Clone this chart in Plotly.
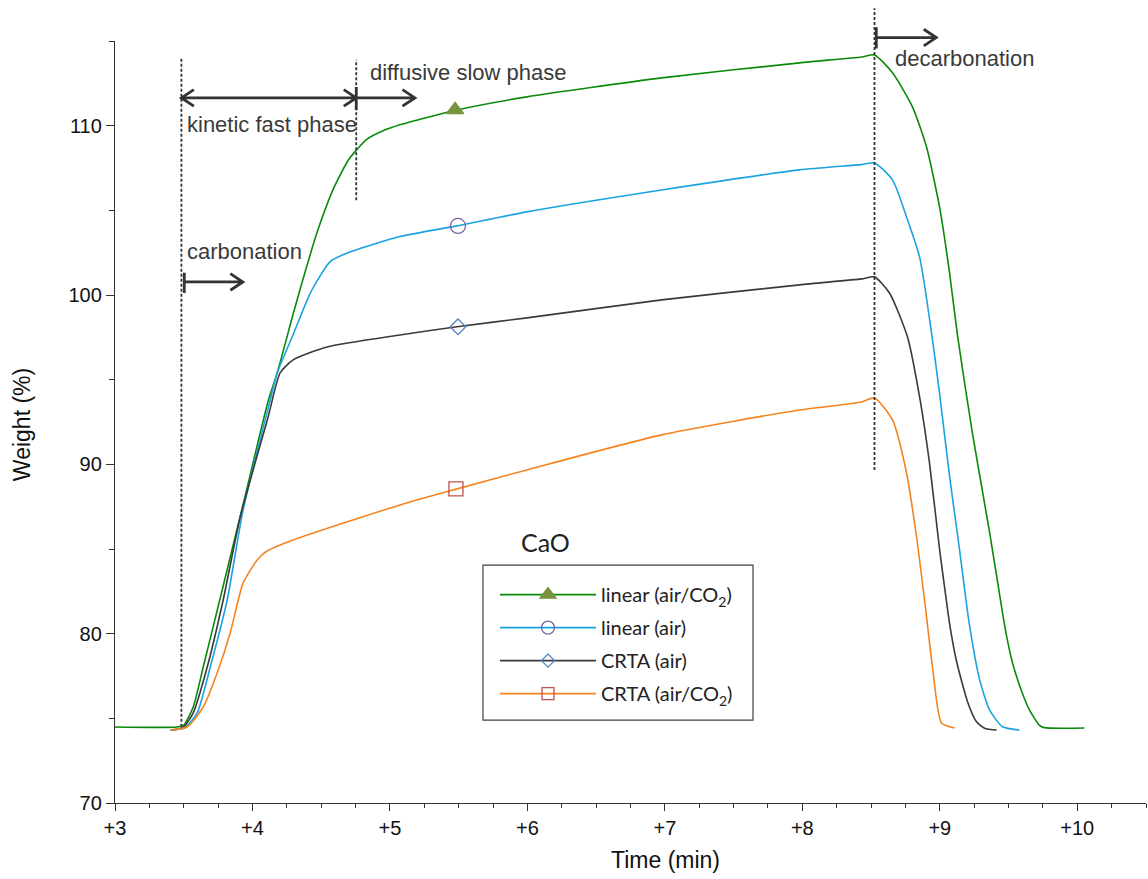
import plotly.graph_objects as go

# ---------------- data ----------------
green_x = [3.00, 3.45, 3.50, 3.569, 3.642, 3.762, 3.940, 4.116, 4.180, 4.300, 4.370, 4.470, 4.590,
           4.700, 4.761, 4.833, 4.950, 5.073, 5.488, 5.996, 6.977, 7.980, 8.431, 8.525, 8.656, 8.801,
           8.903, 8.998, 9.071, 9.129, 9.238, 9.362, 9.449, 9.485, 9.528, 9.600, 9.652, 9.724, 9.760, 10.052]
green_y = [74.49, 74.49, 74.60, 75.67, 78.03, 81.99, 87.90, 93.80, 95.40, 99.00, 101.00, 103.70, 106.30,
           108.00, 108.60, 109.20, 109.70, 110.05, 110.93, 111.70, 112.82, 113.71, 114.06, 114.18, 113.12, 111.11,
           108.75, 105.20, 101.31, 97.60, 91.80, 86.00, 81.60, 79.90, 78.30, 76.50, 75.50, 74.60, 74.45, 74.43]

blue_x = [3.40, 3.504, 3.598, 3.693, 3.816, 3.932, 4.129, 4.180, 4.300, 4.420, 4.565, 4.686, 5.073,
          5.488, 5.996, 6.977, 7.980, 8.431, 8.525, 8.656, 8.758, 8.853, 8.947, 8.998, 9.071, 9.143,
          9.187, 9.216, 9.289, 9.362, 9.456, 9.579]
blue_y = [74.31, 74.43, 75.32, 78.03, 81.99, 87.31, 93.80, 95.40, 97.74, 100.10, 101.97, 102.47, 103.45,
          104.08, 104.91, 106.20, 107.39, 107.70, 107.80, 106.80, 104.61, 102.25, 97.35, 94.20, 89.30, 85.00,
          82.20, 80.50, 77.30, 75.50, 74.50, 74.31]

black_x = [3.42, 3.50, 3.569, 3.671, 3.787, 3.911, 4.114, 4.201, 4.296, 4.543, 5.073, 5.488, 5.996,
           6.977, 7.980, 8.431, 8.525, 8.634, 8.765, 8.853, 8.925, 8.998, 9.042, 9.071, 9.121, 9.201,
           9.267, 9.330, 9.413]
black_y = [74.31, 74.50, 75.32, 78.03, 81.99, 86.89, 92.80, 95.40, 96.17, 96.93, 97.64, 98.12, 98.65,
           99.71, 100.60, 100.95, 101.07, 100.12, 97.52, 93.98, 90.08, 85.00, 82.30, 80.60, 78.40, 76.00,
           74.80, 74.40, 74.31]

orange_x = [3.40, 3.525, 3.642, 3.743, 3.838, 3.932, 4.034, 4.100, 4.296, 5.073, 5.488, 5.996, 6.977,
            7.980, 8.431, 8.525, 8.656, 8.758, 8.831, 8.889, 8.947, 9.012, 9.107]
orange_y = [74.31, 74.49, 75.67, 77.68, 80.04, 83.00, 84.35, 84.85, 85.53, 87.60, 88.55, 89.67, 91.74,
            93.21, 93.68, 93.92, 92.62, 89.49, 85.71, 81.99, 78.03, 74.73, 74.43]

# single marker on each curve
marker_x = [5.474, 5.495, 5.495, 5.480]
marker_y = [110.93, 104.08, 98.12, 88.55]

series_names = ["linear (air/CO<sub>2</sub>)", "linear (air)", "CRTA (air)", "CRTA (air/CO<sub>2</sub>)"]
x_ticks = [3, 4, 5, 6, 7, 8, 9, 10]
x_ticktext = ["+3", "+4", "+5", "+6", "+7", "+8", "+9", "+10"]
y_ticks = [70, 80, 90, 100, 110]

# ---------------- styles ----------------
line_colors = ["#0a8a0a", "#1aa3e0", "#3a3a3a", "#f5841f"]
marker_symbols = ["triangle-up", "circle-open", "diamond-open", "square-open"]
marker_colors = ["#77933c", "#7f63a8", "#4f81bd", "#c0504d"]
marker_sizes = [15, 15, 12, 14]
legend_marker_sizes = [14, 13, 10, 12]

curves = [(green_x, green_y), (blue_x, blue_y), (black_x, black_y), (orange_x, orange_y)]

fig = go.Figure()
for i, (cx, cy) in enumerate(curves):
    fig.add_trace(go.Scatter(x=cx, y=cy, mode="lines", showlegend=False,
                             line=dict(color=line_colors[i], width=1.6, shape="spline", smoothing=0.6),
                             hoverinfo="skip"))
for i in range(4):
    fig.add_trace(go.Scatter(x=[marker_x[i]], y=[marker_y[i]], mode="markers", showlegend=False,
                             marker=dict(symbol=marker_symbols[i], size=marker_sizes[i],
                                         color=marker_colors[i], line=dict(color=marker_colors[i], width=1.3))))
for i in range(4):
    fig.add_trace(go.Scatter(x=[None], y=[None], mode="lines+markers", name=series_names[i],
                             legendgroup=f"g{i}",
                             line=dict(color=line_colors[i], width=1.6),
                             marker=dict(symbol=marker_symbols[i], size=legend_marker_sizes[i],
                                         color=marker_colors[i], line=dict(color=marker_colors[i], width=1.3))))

# ---------------- annotation geometry ----------------
dark = "#333333"
dotted = dict(color=dark, width=1.8, dash="3px,2px")
shapes = []
shapes.append(dict(type="line", xref="x", yref="y", x0=3.483, x1=3.483, y0=74.5, y1=114.0, line=dotted))
shapes.append(dict(type="line", xref="x", yref="y", x0=4.755, x1=4.755, y0=105.6, y1=113.9, line=dotted))
shapes.append(dict(type="line", xref="x", yref="paper", x0=8.525, x1=8.525, y0=0.437, y1=1.043, line=dotted))

ax_px = 1 / 137.6      # x data units per pixel
ay_px = 1 / 16.93      # y data units per pixel
ap_px = 1 / 762.3      # paper units per pixel
head_len, head_half = 12.5, 8.3


def arrow(x0, x1, y, yref="y", left_head=False, bar=None):
    dy = head_half * (ay_px if yref == "y" else ap_px)
    dx = head_len * ax_px
    path = f"M{x0},{y} L{x1},{y} M{x1 - dx},{y + dy} L{x1},{y} L{x1 - dx},{y - dy}"
    if left_head:
        path += f" M{x0 + dx},{y + dy} L{x0},{y} L{x0 + dx},{y - dy}"
    if bar is not None:
        path += f" M{x0},{bar[0]} L{x0},{bar[1]}"
    return dict(type="path", xref="x", yref=yref, path=path,
                line=dict(color=dark, width=2.8))


shapes.append(arrow(3.483, 4.755, 111.64, left_head=True))
shapes.append(arrow(4.755, 5.182, 111.64, bar=(112.29, 110.93)))
shapes.append(arrow(3.504, 3.930, 100.77, bar=(101.31, 100.12)))
shapes.append(arrow(8.538, 8.974, 1.0045, yref="paper", bar=(1.018, 0.990)))

# legend box
shapes.append(dict(type="rect", xref="paper", yref="paper",
                   x0=(483 - 115) / 1031, x1=(753 - 115) / 1031,
                   y0=(803 - 720) / 762.3, y1=(803 - 565) / 762.3,
                   line=dict(color="#404040", width=1.2), fillcolor="rgba(0,0,0,0)"))

txt_font = dict(family="Liberation Sans, Arial, sans-serif", size=22, color="#3a3a3a")
annotations = [
    dict(x=3.512, y=110.05, text="kinetic fast phase", xanchor="left", yanchor="middle", showarrow=False, font=txt_font),
    dict(x=4.841, y=113.12, text="diffusive slow phase", xanchor="left", yanchor="middle", showarrow=False, font=txt_font),
    dict(x=3.512, y=102.55, text="carbonation", xanchor="left", yanchor="middle", showarrow=False, font=txt_font),
    dict(x=8.663, y=113.95, text="decarbonation", xanchor="left", yanchor="middle", showarrow=False, font=txt_font),
    dict(x=6.13, y=85.42, text="CaO", xanchor="center", yanchor="middle", showarrow=False,
         font=dict(family="Lato, Carlito, sans-serif", size=25, color="#222222")),
    dict(xref="paper", yref="paper", x=(665 - 115) / 1031, y=(803 - 860) / 762.3, text="Time (min)",
         showarrow=False, xanchor="center", yanchor="middle",
         font=dict(family="Liberation Sans, Arial, sans-serif", size=23, color="#111111")),
    dict(xref="paper", yref="paper", x=(22 - 115) / 1031, y=(803 - 425) / 762.3, text="Weight (%)",
         showarrow=False, xanchor="center", yanchor="middle", textangle=-90,
         font=dict(family="Liberation Sans, Arial, sans-serif", size=23, color="#111111")),
]

axis_font = dict(family="Liberation Sans, Arial, sans-serif", size=20, color="#111111")
fig.update_layout(
    width=1148, height=879,
    margin=dict(l=115, r=2, t=41, b=76),
    paper_bgcolor="white", plot_bgcolor="white",
    shapes=shapes, annotations=annotations,
    showlegend=True,
    legend=dict(x=(495 - 115) / 1031, y=(803 - 575) / 762.3, xanchor="left", yanchor="top",
                bgcolor="rgba(0,0,0,0)", borderwidth=0,
                font=dict(family="Lato, Carlito, sans-serif", size=20, color="#222222"),
                itemwidth=96, tracegroupgap=4, traceorder="grouped"),
    xaxis=dict(range=[3, 10.5], tickvals=x_ticks, ticktext=x_ticktext, showgrid=False, zeroline=False,
               showline=True, linecolor=dark, linewidth=1.3, ticks="outside", ticklen=7, tickwidth=1.3,
               tickcolor=dark, tickfont=axis_font, automargin=False,
               minor=dict(dtick=0.25, ticks="outside", ticklen=4, tickcolor=dark, tickwidth=1.1)),
    yaxis=dict(range=[70, 115], tickvals=y_ticks, showgrid=False, zeroline=False,
               showline=True, linecolor=dark, linewidth=1.3, ticks="outside", ticklen=8, tickwidth=1.3,
               tickcolor=dark, tickfont=axis_font, automargin=False,
               minor=dict(dtick=5, ticks="outside", ticklen=5, tickcolor=dark, tickwidth=1.1)),
)

fig.write_html("out.html", config={"displayModeBar": False},
               post_script="document.body.style.margin='0';document.body.style.overflow='hidden';")
